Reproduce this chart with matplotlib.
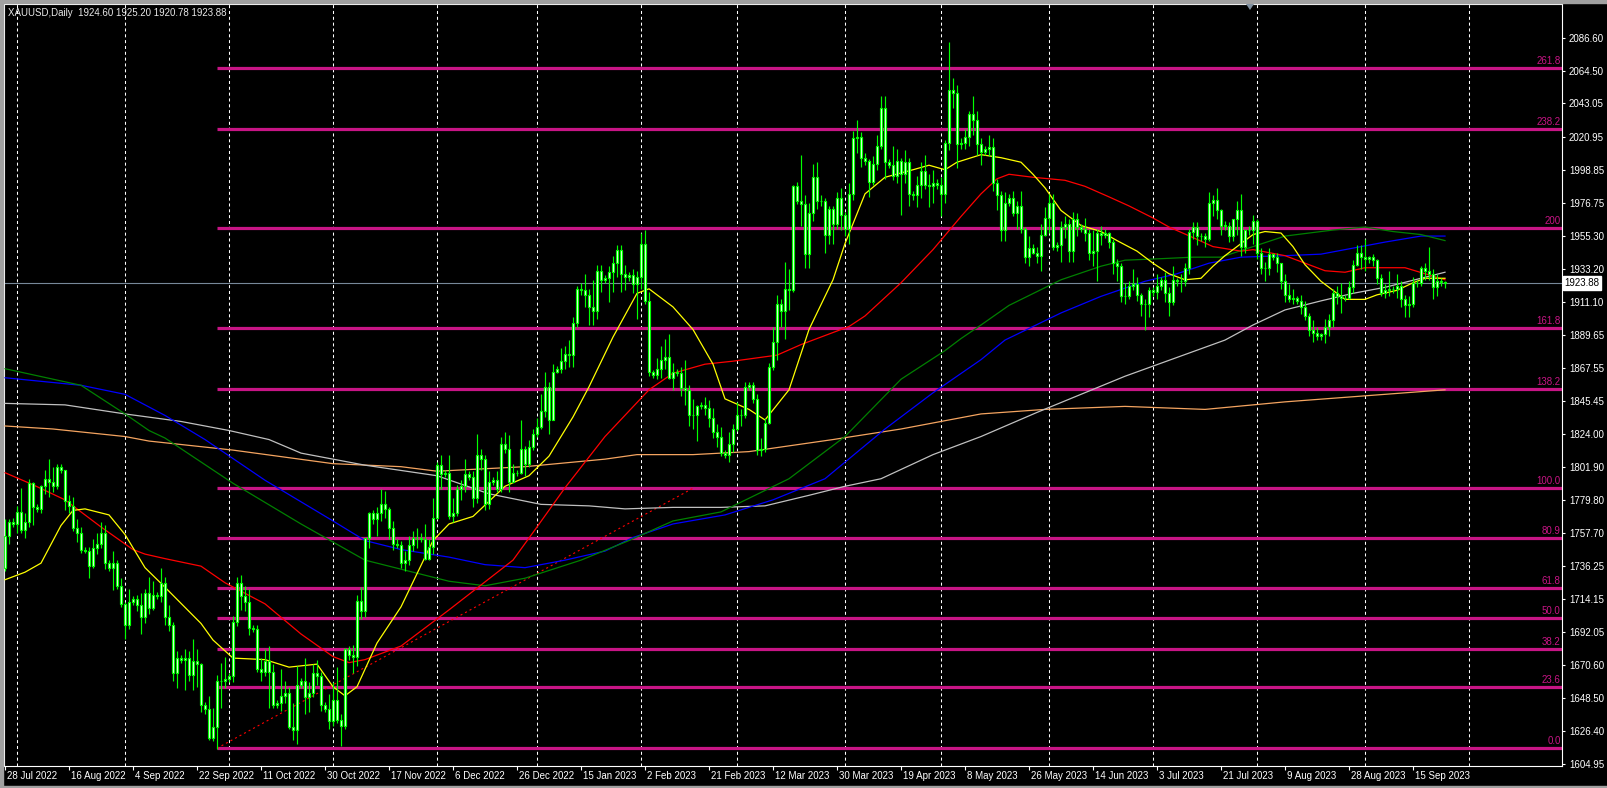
import matplotlib
matplotlib.use("Agg")
import matplotlib.pyplot as plt
from matplotlib.patches import Rectangle, Polygon
import numpy as np

plt.rcParams['font.family'] = ['Liberation Sans', 'DejaVu Sans']
plt.rcParams['lines.scale_dashes'] = False

# ---------------- DATA ----------------
title_text = "XAUUSD,Daily  1924.60 1925.20 1920.78 1923.88"
last_price = 1923.88

opens = [
1735,1756,1765,1764,1772,1760,1765,1791,1775,1774,1789,1794,1792,1789,1802,1800,1779,1776,1761,1758,
1747,1746,1736,1748,1751,1758,1738,1735,1738,1723,1711,1697,1712,1714,1710,1702,1718,1708,1717,1716,
1725,1702,1697,1665,1675,1674,1675,1664,1673,1671,1644,1641,1622,1629,1660,1660,1661,1663,1699,1725,
1716,1712,1695,1694,1668,1666,1673,1666,1644,1645,1650,1652,1629,1627,1657,1660,1649,1652,1665,1663,
1644,1641,1633,1647,1634,1630,1681,1677,1676,1713,1706,1755,1771,1767,1771,1777,1774,1761,1751,1750,
1738,1740,1750,1755,1755,1754,1741,1749,1768,1803,1797,1798,1769,1771,1787,1789,1797,1795,1781,1810,
1807,1777,1792,1793,1787,1817,1814,1792,1798,1798,1814,1804,1815,1824,1828,1839,1855,1833,1865,1867,
1872,1877,1876,1897,1920,1919,1916,1908,1905,1932,1926,1927,1931,1937,1946,1930,1928,1929,1923,1928,
1950,1912,1865,1863,1867,1873,1875,1861,1865,1864,1854,1853,1836,1836,1842,1843,1841,1834,1825,1822,
1811,1810,1817,1827,1836,1836,1855,1856,1847,1813,1814,1831,1868,1885,1910,1905,1920,1919,1988,1978,
1976,1943,1970,1994,1978,1978,1956,1973,1963,1980,1969,1960,1983,2020,2021,2007,2005,1991,2003,2015,
2040,2004,2002,1995,2005,1996,2004,1983,1982,1989,1998,1989,1988,1990,1989,1983,2017,2052,2050,2016,
2017,2021,2036,2032,2016,2011,2013,2014,1990,1982,1959,1977,1980,1970,1975,1960,1941,1947,1944,1942,
1956,1967,1977,1948,1949,1961,1963,1945,1966,1961,1960,1957,1944,1945,1957,1956,1957,1951,1937,1935,
1915,1915,1922,1923,1916,1910,1910,1919,1918,1922,1926,1917,1911,1926,1925,1925,1934,1958,1961,1955,
1955,1953,1977,1979,1972,1962,1962,1955,1966,1972,1948,1959,1959,1965,1944,1934,1934,1943,1941,1937,
1925,1916,1913,1914,1912,1908,1902,1893,1891,1889,1890,1895,1899,1917,1915,1914,1914,1921,1936,1944,
1941,1940,1941,1939,1927,1917,1919,1920,1920,1922,1913,1909,1910,1924,1924,1934,1932,1930,1921,1925,
1924.60]

highs = [
1767,1767,1768,1776,1788,1771,1794,1792,1777,1790,1800,1807,1802,1804,1804,1800,1783,1782,1767,1762,
1749,1749,1754,1758,1765,1763,1740,1746,1740,1728,1712,1721,1716,1717,1718,1721,1729,1726,1719,1735,
1729,1710,1699,1680,1677,1681,1680,1688,1681,1672,1646,1650,1642,1664,1672,1676,1665,1703,1729,1730,
1723,1721,1697,1697,1675,1681,1683,1671,1647,1668,1660,1656,1645,1670,1662,1675,1659,1671,1674,1666,
1646,1651,1659,1669,1638,1682,1683,1684,1717,1722,1755,1772,1773,1775,1787,1786,1775,1766,1754,1753,
1746,1756,1759,1761,1758,1764,1754,1781,1805,1810,1800,1810,1781,1790,1793,1807,1799,1799,1824,1814,
1810,1799,1795,1799,1822,1825,1823,1804,1800,1833,1816,1820,1827,1834,1850,1865,1858,1870,1869,1881,
1882,1886,1901,1922,1924,1930,1920,1926,1936,1936,1929,1935,1942,1949,1949,1936,1931,1933,1932,1957,
1959,1918,1866,1874,1882,1887,1890,1871,1867,1868,1873,1856,1847,1843,1845,1848,1846,1841,1830,1828,
1813,1825,1830,1845,1840,1858,1858,1858,1850,1821,1834,1871,1895,1916,1913,1938,1933,1989,1991,2009,
1982,1977,2003,2004,1982,1980,1975,1975,1984,1987,1971,1990,2025,2032,2024,2010,2006,2008,2022,2048,
2048,2006,2015,2013,2007,2012,2007,1985,1995,2004,2009,1996,1999,1993,1994,2019,2084,2060,2055,2020,
2026,2038,2048,2038,2020,2015,2022,2020,1993,1985,1984,1983,1985,1978,1985,1961,1955,1950,1948,1963,
1974,1983,1983,1951,1965,1968,1966,1971,1970,1963,1967,1960,1959,1960,1962,1960,1958,1953,1940,1937,
1924,1925,1933,1928,1917,1913,1921,1921,1930,1928,1931,1921,1935,1927,1930,1937,1960,1964,1964,1957,
1957,1984,1982,1987,1973,1965,1964,1966,1978,1983,1960,1962,1969,1966,1947,1938,1947,1944,1944,1937,
1930,1923,1920,1915,1916,1912,1904,1899,1895,1891,1900,1903,1920,1922,1924,1916,1925,1939,1949,1949,
1953,1942,1943,1940,1930,1923,1932,1922,1930,1925,1916,1915,1928,1926,1935,1937,1948,1933,1930,1927,
1925.20]

lows = [
1733,1751,1762,1758,1758,1755,1762,1763,1772,1771,1784,1782,1785,1787,1798,1773,1771,1759,1752,1745,
1745,1728,1735,1744,1748,1734,1733,1720,1721,1709,1688,1694,1710,1706,1691,1698,1704,1707,1714,1712,
1697,1693,1660,1655,1672,1654,1660,1654,1656,1639,1638,1621,1620,1615,1642,1655,1659,1659,1696,1707,
1706,1690,1692,1666,1660,1663,1642,1642,1642,1640,1645,1628,1621,1618,1655,1638,1639,1649,1657,1640,
1639,1628,1630,1632,1617,1628,1674,1665,1670,1701,1702,1748,1764,1756,1766,1768,1754,1747,1748,1735,
1733,1737,1746,1748,1752,1740,1740,1744,1767,1787,1795,1767,1765,1769,1780,1785,1793,1775,1778,1800,
1773,1774,1790,1785,1785,1811,1785,1792,1796,1797,1796,1802,1813,1822,1827,1835,1824,1833,1864,1864,
1867,1868,1868,1895,1916,1908,1896,1896,1900,1918,1924,1911,1918,1928,1918,1919,1925,1917,1900,1920,
1910,1862,1861,1860,1861,1867,1860,1853,1862,1849,1843,1829,1827,1819,1840,1836,1828,1821,1815,1809,
1808,1805,1812,1826,1829,1834,1853,1844,1810,1809,1812,1830,1866,1873,1895,1887,1906,1918,1976,1962,
1934,1934,1965,1973,1975,1944,1950,1950,1960,1959,1955,1950,1979,2010,2001,2002,1981,1989,1999,2013,
1993,2000,1992,1990,1969,1990,1975,1979,1974,1980,1986,1974,1977,1986,1968,1977,2012,2040,2000,2013,
2013,2015,2022,2009,2002,2009,2008,1985,1972,1952,1952,1975,1968,1960,1957,1937,1935,1943,1937,1932,
1955,1957,1946,1945,1938,1954,1938,1938,1955,1958,1952,1939,1935,1925,1949,1954,1947,1930,1925,1911,
1910,1913,1919,1912,1902,1893,1901,1915,1913,1919,1911,1902,1909,1922,1918,1922,1930,1953,1949,1952,
1948,1952,1968,1966,1956,1959,1951,1952,1956,1942,1944,1956,1950,1940,1930,1925,1929,1939,1931,1920,
1911,1911,1910,1910,1903,1899,1889,1885,1886,1886,1884,1889,1895,1910,1904,1912,1913,1917,1935,1933,
1932,1937,1935,1923,1915,1914,1915,1917,1914,1908,1901,1901,1908,1921,1922,1926,1926,1913,1915,1922,
1920.78]

closes = [
1756,1765,1764,1772,1760,1765,1791,1775,1774,1789,1794,1792,1789,1802,1800,1779,1776,1761,1758,1747,
1746,1736,1748,1751,1758,1738,1735,1738,1723,1711,1697,1712,1714,1710,1702,1718,1708,1717,1716,1725,
1702,1697,1665,1675,1674,1675,1664,1673,1671,1644,1641,1622,1629,1660,1660,1661,1663,1699,1725,1716,
1712,1695,1694,1668,1666,1673,1666,1644,1645,1650,1652,1629,1627,1657,1660,1649,1652,1665,1663,1644,
1641,1633,1647,1634,1630,1681,1677,1676,1713,1706,1755,1771,1767,1771,1777,1774,1761,1751,1750,1738,
1740,1750,1755,1755,1754,1741,1749,1768,1803,1797,1798,1769,1771,1787,1789,1797,1795,1781,1810,1807,
1777,1792,1793,1787,1817,1814,1792,1798,1798,1814,1804,1815,1824,1828,1839,1855,1833,1865,1867,1872,
1877,1876,1897,1920,1919,1916,1908,1905,1932,1926,1927,1931,1937,1946,1930,1928,1929,1923,1928,1950,
1912,1865,1863,1867,1873,1875,1861,1865,1864,1854,1853,1836,1836,1842,1843,1841,1834,1825,1822,1811,
1810,1817,1827,1836,1836,1855,1856,1847,1813,1814,1831,1868,1885,1910,1905,1920,1919,1988,1978,1976,
1943,1970,1994,1978,1978,1956,1973,1963,1980,1969,1960,1983,2020,2021,2007,2005,1991,2003,2015,2040,
2004,2002,1995,2005,1996,2004,1983,1982,1989,1998,1989,1988,1990,1989,1983,2017,2052,2050,2016,2017,
2021,2036,2032,2016,2011,2013,2014,1990,1982,1959,1977,1980,1970,1975,1960,1941,1947,1944,1942,1956,
1967,1977,1948,1949,1961,1963,1945,1966,1961,1960,1957,1944,1945,1957,1956,1957,1951,1937,1935,1915,
1915,1922,1923,1916,1910,1910,1919,1918,1922,1926,1917,1911,1926,1925,1925,1934,1958,1961,1955,1955,
1953,1977,1979,1972,1962,1962,1955,1966,1972,1948,1959,1959,1965,1944,1934,1934,1943,1941,1937,1925,
1916,1913,1914,1912,1908,1902,1893,1891,1889,1890,1895,1899,1917,1915,1914,1914,1921,1936,1944,1941,
1940,1941,1939,1927,1917,1919,1920,1920,1922,1913,1909,1910,1924,1924,1934,1932,1930,1921,1925,1924.60,
1923.88]

# Moving averages (bar index, price)
ma_yellow_x = [0,5,9,14,17,20,26,30,35,40,49,52,57,65,71,78,82,85,88,93,99,107,111,117,125,131,136,142,146,152,
               158,161,167,172,177,180,186,190,196,201,207,210,215,220,227,231,235,238,244,249,254,257,260,264,269,
               274,278,283,287,291,295,299,302,305,308,312,315,319,322,325,329,332,335,340,343,348,352,355,360]
ma_yellow_y = [1727,1732,1738,1763,1773,1774,1770,1757,1735,1722,1698,1687,1675,1674,1669,1671,1656,1650,1656,1685,
               1709,1753,1764,1769,1789,1796,1809,1835,1855,1888,1917,1920,1908,1893,1870,1847,1840,1833,1853,1893,
               1926,1950,1983,1994,1999,2002,1999,2004,2009,2007,2004,1996,1987,1972,1962,1958,1952,1945,1937,1930,
               1926,1927,1935,1942,1948,1956,1958,1957,1948,1936,1925,1919,1913,1913,1916,1919,1924,1927,1927]

ma_red_x = [0,7,15,24,32,35,40,49,55,65,74,82,86,90,99,111,127,133,140,150,161,167,175,182,193,199,211,215,224,232,
            239,244,248,251,257,265,270,276,281,287,291,297,302,309,312,320,325,330,335,340,345,350,355,360]
ma_red_y = [1798,1790,1780,1762,1747,1744,1741,1736,1725,1711,1691,1676,1672,1674,1683,1707,1740,1762,1788,1822,
            1853,1864,1870,1872,1876,1883,1895,1902,1924,1946,1968,1983,1993,1996,1994,1992,1988,1981,1975,1967,
            1961,1954,1948,1945,1946,1942,1937,1932,1931,1934,1934,1934,1930,1926]

ma_green_x = [0,19,30,36,40,57,74,90,111,120,130,144,156,167,179,196,210,224,235,239,244,251,264,274,280,289,297,
              304,312,320,332,340,347,354,360]
ma_green_y = [1867,1856,1837,1826,1821,1791,1764,1740,1726,1723,1728,1740,1753,1766,1772,1794,1822,1860,1879,1887,
              1896,1909,1926,1935,1939,1940,1941,1941,1948,1955,1959,1961,1958,1956,1952]

ma_blue_x = [0,19,30,40,50,65,82,90,99,111,120,130,140,150,157,167,180,192,205,220,232,244,250,264,274,285,293,301,
             309,320,329,337,345,354,360]
ma_blue_y = [1861,1856,1850,1836,1820,1793,1766,1753,1747,1742,1737,1735,1740,1746,1755,1764,1770,1780,1794,1827,
             1851,1873,1886,1904,1915,1925,1930,1937,1941,1942,1943,1947,1951,1955,1955]

ma_silver_x = [0,15,30,44,56,66,74,90,108,121,134,146,155,167,179,190,201,210,219,232,244,258,280,305,312,320,329,
               337,345,354,360]
ma_silver_y = [1844,1843,1837,1832,1826,1820,1811,1803,1796,1784,1777,1776,1774,1775,1775,1776,1783,1789,1794,1810,
               1822,1838,1862,1886,1896,1906,1912,1917,1921,1927,1931]

ma_orange_x = [0,12,30,36,57,82,99,108,130,150,158,172,186,207,224,244,260,280,300,320,340,360]
ma_orange_y = [1829,1827,1822,1819,1813,1804,1802,1799,1802,1807,1810,1810,1812,1820,1827,1837,1840,1842,1840,1845,
               1849,1853]

# Fibonacci retracement (anchors: bar, price)
fib_anchor_bars = [53, 172]
fib_anchor_prices = [1615.2, 1787.7]
fib_levels = [0.0, 23.6, 38.2, 50.0, 61.8, 80.9, 100.0, 138.2, 161.8, 200.0, 238.2, 261.8]
fib_labels = ["0.0", "23.6", "38.2", "50.0", "61.8", "80.9", "100.0", "138.2", "161.8", "200", "238.2", "261.8"]

# Axis labels
price_ticks = [2086.60, 2064.50, 2043.05, 2020.95, 1998.85, 1976.75, 1955.30, 1933.20, 1911.10, 1889.65,
               1867.55, 1845.45, 1824.00, 1801.90, 1779.80, 1757.70, 1736.25, 1714.15, 1692.05, 1670.60,
               1648.50, 1626.40, 1604.95]
date_labels = ["28 Jul 2022", "16 Aug 2022", "4 Sep 2022", "22 Sep 2022", "11 Oct 2022", "30 Oct 2022",
               "17 Nov 2022", "6 Dec 2022", "26 Dec 2022", "15 Jan 2023", "2 Feb 2023", "21 Feb 2023",
               "12 Mar 2023", "30 Mar 2023", "19 Apr 2023", "8 May 2023", "26 May 2023", "14 Jun 2023",
               "3 Jul 2023", "21 Jul 2023", "9 Aug 2023", "28 Aug 2023", "15 Sep 2023"]
date_label_bars = [16 * k for k in range(len(date_labels))]
month_start_bars = [3, 30, 56, 82, 108, 133, 159, 183, 210, 234, 261, 287, 313, 340, 366]

# ---------------- FIGURE ----------------
W, H = 1607, 788
fig = plt.figure(figsize=(W / 100, H / 100), dpi=100, facecolor='black')
L_PX, R_PX, T_PX, B_PX = 4, 1562, 4, 766
ax = fig.add_axes([L_PX / W, 1 - B_PX / H, (R_PX - L_PX) / W, (B_PX - T_PX) / H])
ax.set_facecolor('black')
ax.set_xlim(-0.25, 389.25)
ax.set_ylim(1603.42, 2108.96)

for s in ax.spines.values():
    s.set_color('white')
    s.set_linewidth(0.8)

GREEN = '#00FF00'

for b in month_start_bars:
    ax.axvline(b, color='white', lw=0.75, dashes=(2.2, 2.0), zorder=1)

lo, hi = fib_anchor_prices
fib_col = '#C71585'
for lev, lab in zip(fib_levels, fib_labels):
    p = lo + (hi - lo) * lev / 100.0
    ax.hlines(p, fib_anchor_bars[0], 389.25, color=fib_col, lw=2.3, zorder=2)
    ax.text(1.0 - 1.5 / 1558, p + 1.2, lab, transform=ax.get_yaxis_transform(),
            color=fib_col, fontsize=7, ha='right', va='bottom', zorder=6)
ax.plot(fib_anchor_bars, fib_anchor_prices, color='#FF0000', lw=0.8, dashes=(1.5, 2.2), zorder=3)

ax.axhline(last_price, color='#778899', lw=0.8, zorder=2)

ma_sets = [(ma_orange_x, ma_orange_y, '#F4A460'), (ma_silver_x, ma_silver_y, '#C0C0C0'),
           (ma_blue_x, ma_blue_y, '#0000FF'), (ma_green_x, ma_green_y, '#008000'),
           (ma_red_x, ma_red_y, '#FF0000'), (ma_yellow_x, ma_yellow_y, '#FFFF00')]
for mx, my, col in ma_sets:
    ax.plot(mx, my, color=col, lw=0.9, zorder=4, solid_joinstyle='round')

n = min(len(opens), len(highs), len(lows), len(closes))
o = np.array(opens[:n], float); h = np.array(highs[:n], float)
l = np.array(lows[:n], float); c = np.array(closes[:n], float)
x = np.arange(n)
ax.vlines(x, l, h, color=GREEN, lw=0.85, zorder=5)
blo = np.minimum(o, c); bhi = np.maximum(o, c)
ax.bar(x, np.maximum(bhi - blo, 0.01), bottom=blo, width=0.55, facecolor='white',
       edgecolor=GREEN, linewidth=0.85, zorder=5.5)

ax.yaxis.tick_right()
ax.set_yticks(price_ticks)
ax.set_yticklabels([f"{v:.2f}" for v in price_ticks])
ax.tick_params(axis='y', colors='white', labelcolor='white', length=2.5, width=0.8,
               pad=2.5, labelsize=7, direction='out')

ax.set_xticks(date_label_bars)
ax.set_xticklabels([])
ax.tick_params(axis='x', colors='white', length=3, width=0.8, direction='out')
xtr = ax.get_xaxis_transform()
for b, lab in zip(date_label_bars, date_labels):
    ax.text(b + 0.4, -10 / 762, lab, transform=xtr, color='white', fontsize=7,
            ha='left', va='center', clip_on=False)

ax.text(1.0 + 2.5 / 1558, last_price, f"{last_price:.2f}", transform=ax.get_yaxis_transform(),
        color='black', fontsize=7, ha='left', va='center', zorder=10, clip_on=False,
        bbox=dict(boxstyle='square,pad=0.18', facecolor='white', edgecolor='white'))

ax.text(4 / 1558, 1 - 9 / 762, title_text, transform=ax.transAxes, color='#E8E8E8',
        fontsize=7, ha='left', va='center', zorder=10)

tri_x = 1250 / W; tri_top = 1 - 4 / H; tri_bot = 1 - 10 / H
fig.patches.append(Polygon([[tri_x - 4 / W, tri_top], [tri_x + 4 / W, tri_top], [tri_x, tri_bot]],
                           closed=True, transform=fig.transFigure, facecolor='#8090A0',
                           edgecolor='none', zorder=10))

fr = '#A0A0A0'
fig.patches.append(Rectangle((0, 0), 3 / W, 1, transform=fig.transFigure, color=fr, zorder=0))
fig.patches.append(Rectangle((0, 1 - 3 / H), 1, 3 / H, transform=fig.transFigure, color=fr, zorder=0))
fig.patches.append(Rectangle((0, 0), 1, 2 / H, transform=fig.transFigure, color=fr, zorder=0))

fig.savefig('out.png', dpi=100, facecolor='black')
